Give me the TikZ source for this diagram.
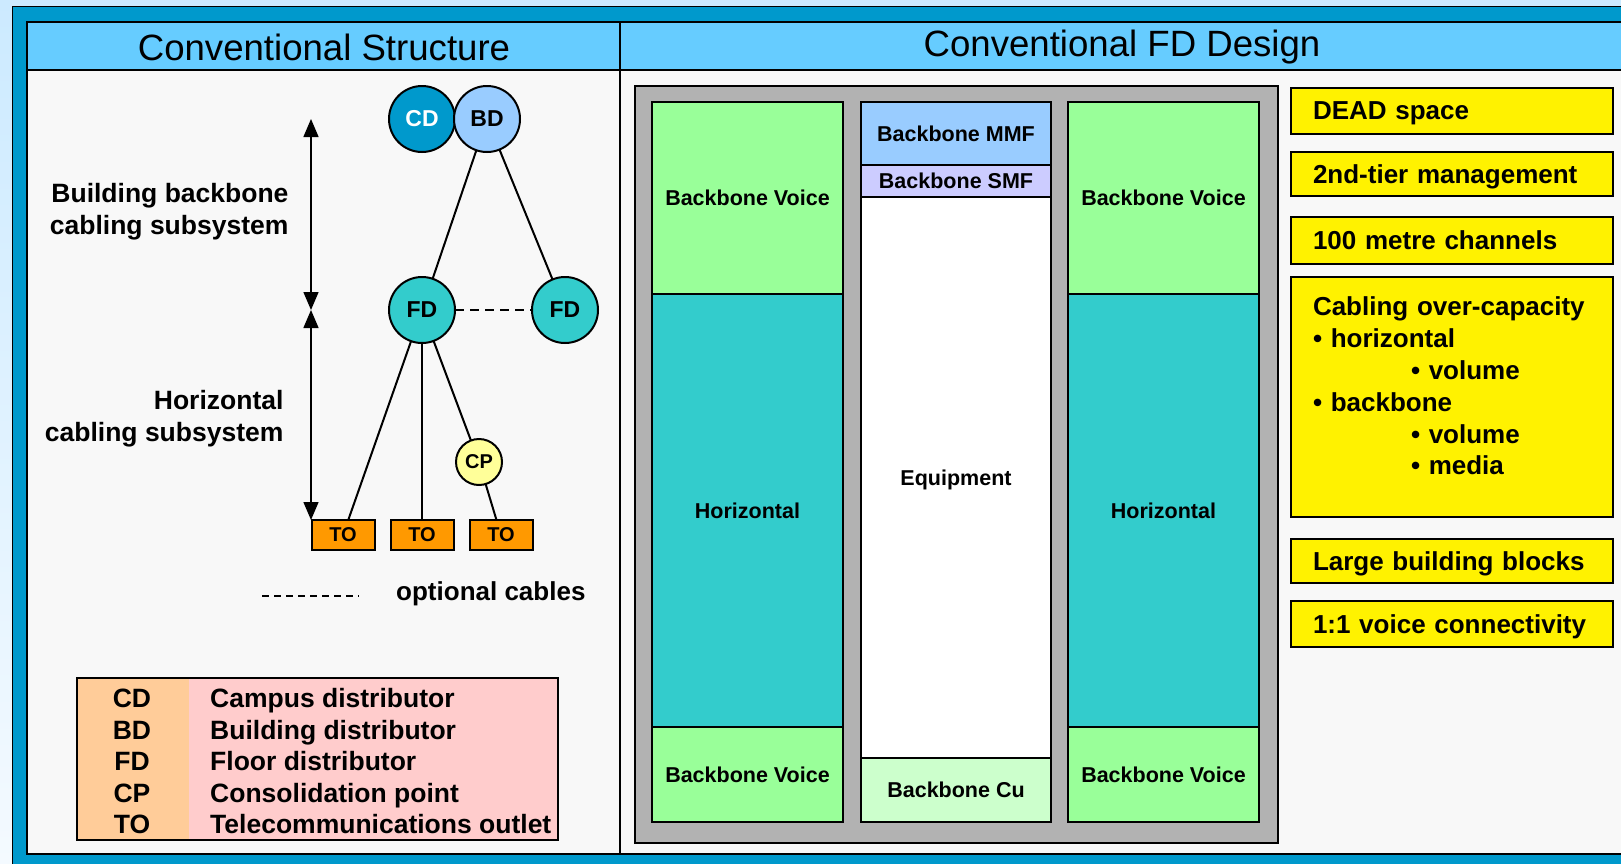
\documentclass[tikz,border=0pt]{standalone}
\usepackage{fontspec}
\setmainfont{Liberation Sans}
\usetikzlibrary{positioning, arrows.meta}

\definecolor{bgtop}{RGB}{204,234,255}
\definecolor{bgbottom}{RGB}{244,250,255}
\definecolor{frameblue}{HTML}{0099CC}
\definecolor{headblue}{HTML}{66CCFF}
\definecolor{panelgray}{HTML}{F8F8F8}
\definecolor{bdblue}{HTML}{99CCFF}
\definecolor{fdteal}{HTML}{33CCCC}
\definecolor{cpyellow}{HTML}{FFFF99}
\definecolor{toorange}{HTML}{FF9900}
\definecolor{keyorange}{HTML}{FFCC99}
\definecolor{descpink}{HTML}{FFCCCC}
\definecolor{rackgray}{HTML}{B2B2B2}
\definecolor{voicegreen}{HTML}{99FF99}
\definecolor{smfblue}{HTML}{CCCCFF}
\definecolor{cugreen}{HTML}{CCFFCC}

\begin{document}
\begin{tikzpicture}[x=1pt, y=-1pt]
	% Setup the styles
	\tikzset{
		dist/.style={circle, draw, line width=2pt, minimum size=66pt, inner sep=0pt,
			outer sep=0pt, font=\fontsize{23}{26}\selectfont\bfseries},
		outlet/.style={rectangle, draw, line width=2pt, fill=toorange, minimum width=63pt,
			minimum height=30pt, inner sep=0pt, outer sep=0pt,
			font=\fontsize{20}{22}\selectfont\bfseries},
		cell/.style={rectangle, draw, line width=1.5pt, inner sep=0pt, outer sep=0pt,
			text depth=0pt, font=\fontsize{21.5}{24}\selectfont\bfseries},
		note/.style={rectangle, draw, line width=1.5pt, fill=yellow, text width=278pt,
			align=left, inner xsep=22pt, inner ysep=0pt, outer sep=0pt, anchor=north west,
			font=\fontsize{26}{31.8}\selectfont\bfseries},
		side label/.style={anchor=east, align=right, font=\fontsize{26.5}{32}\selectfont\bfseries},
		key text/.style={inner sep=0pt, font=\fontsize{26.5}{28}\selectfont\bfseries},
		header/.style={font=\fontsize{36.6}{40}\selectfont},
		cable/.style={line width=2pt},
		span/.style={line width=1.5pt, {Triangle[length=18pt, width=15pt]}-{Triangle[length=18pt, width=15pt]}},
	}
	
	\useasboundingbox (0,0) rectangle (1621,863);
	\clip (0,0) rectangle (1621,863);
	\shade[top color=bgtop, bottom color=bgbottom] (0,0) rectangle (1621,863);
	
	% Frame, panels and headers
	\draw[fill=frameblue, line width=1pt] (12,6) rectangle (1650,890);
	\draw[fill=panelgray, line width=1.5pt] (27,22) rectangle (1640,854);
	\draw[fill=headblue, line width=1.5pt] (27,22) rectangle (1640,70);
	\draw[line width=1.5pt] (620,22) -- (620,854);
	
	\node[header] (structhead) at (324,47) {Conventional Structure};
	\node[header] (designhead) at (1122,47) {Conventional FD Design};
	
	% Conventional structure
	\node[dist, fill=frameblue, text=white]       (cd)  at (422,119) {CD};
	\node[dist, fill=bdblue, right=-1pt of cd]    (bd)  {BD};
	\node[dist, fill=fdteal]                      (fd1) at (422,310) {FD};
	\node[dist, fill=fdteal, right=77pt of fd1]   (fd2) {FD};
	\node[dist, fill=cpyellow, minimum size=46pt,
		font=\fontsize{20}{22}\selectfont\bfseries] (cp)  at (479,462) {CP};
	\node[outlet]                                 (to2) at (422,535) {TO};
	\node[outlet, left=16pt of to2]               (to1) {TO};
	\node[outlet, right=16pt of to2]              (to3) {TO};
	
	\draw[cable] (bd) -- (fd1);
	\draw[cable] (bd) -- (fd2);
	\draw[cable, dash pattern=on 9pt off 6pt] (fd1) -- (fd2);
	\draw[cable] (fd1) -- (to1);
	\draw[cable] (fd1) -- (to2);
	\draw[cable] (fd1) -- (cp);
	\draw[cable] (cp) -- (to3);
	
	\coordinate (spantop) at (311,119);
	\coordinate (spanmid) at (311,310);
	\coordinate (spanbot) at (311,520);
	\draw[span] (spantop) -- (spanmid);
	\draw[span] (spanmid) -- (spanbot);
	
	\node[side label] (backbonelbl) at (292,212) {Building backbone\\cabling subsystem};
	\node[side label] (horizlbl)    at (287,419) {Horizontal\\cabling subsystem};
	
	\coordinate (optstart) at (262,596);
	\coordinate (optend)   at (359,596);
	\draw[line width=1.2pt, dash pattern=on 7pt off 5pt] (optstart) -- (optend);
	\node[key text, anchor=west, font=\fontsize{26}{28}\selectfont\bfseries] (optlbl) at (396,594) {optional cables};
	
	% Legend
	\node[fill=keyorange, minimum width=112pt, minimum height=162pt, inner sep=0pt,
		outer sep=0pt, anchor=north west] (keycol) at (77,678) {};
	\node[fill=descpink, minimum width=369pt, minimum height=162pt, inner sep=0pt,
		outer sep=0pt, anchor=north west] (desccol) at (keycol.north east) {};
	\draw[line width=1.5pt] (keycol.north west) rectangle (desccol.south east);
	\foreach \abbr/\desc [count=\i] in {CD/Campus distributor, BD/Building distributor,
		FD/Floor distributor, CP/Consolidation point, TO/Telecommunications outlet} {
		\node[key text, anchor=base] (key\i) at (132,676+31.5*\i) {\abbr};
		\node[key text, anchor=base west] (desc\i) at (210,676+31.5*\i) {\desc};
	}
	
	% Conventional FD design
	\node[cell, fill=rackgray, minimum width=643pt, minimum height=757pt] (rack) at (956.5,464.5) {};
	\foreach \side/\x in {l/652, r/1068} {
		\node[cell, fill=voicegreen, minimum width=191pt, minimum height=192pt,
			anchor=north west] (\side voice) at (\x,102) {Backbone Voice};
		\node[cell, fill=fdteal, minimum width=191pt, minimum height=433pt,
			below=0pt of \side voice] (\side horiz) {Horizontal};
		\node[cell, fill=voicegreen, minimum width=191pt, minimum height=95pt,
			below=0pt of \side horiz] (\side lowvoice) {Backbone Voice};
	}
	\node[cell, fill=bdblue, minimum width=190pt, minimum height=63pt,
		anchor=north west] (mmf) at (861,102) {Backbone MMF};
	\node[cell, fill=smfblue, minimum width=190pt, minimum height=32pt, below=0pt of mmf] (smf) {Backbone SMF};
	\node[cell, fill=white, minimum width=190pt, minimum height=561pt, below=0pt of smf] (equip) {Equipment};
	\node[cell, fill=cugreen, minimum width=190pt, minimum height=64pt, below=0pt of equip] (cu) {Backbone Cu};
	
	% Notes
	\foreach \ytop/\boxh/\txt [count=\i] in {88/46/DEAD space, 152/44/2nd-tier management,
		217/47/100 metre channels, 539/44/Large building blocks, 601/46/1:1 voice connectivity} {
		\node[note, text depth=0pt, minimum height=\boxh pt] (note\i) at (1291,\ytop) {\txt};
	}
	\node[note, inner ysep=20pt] (capacity) at (1291,277) {\parbox[t][200pt][t]{278pt}{%
		Cabling over-capacity\\
		• horizontal\\
		\hspace*{98pt}• volume\\
		• backbone\\
		\hspace*{98pt}• volume\\
		\hspace*{98pt}• media}};
\end{tikzpicture}
\end{document}
